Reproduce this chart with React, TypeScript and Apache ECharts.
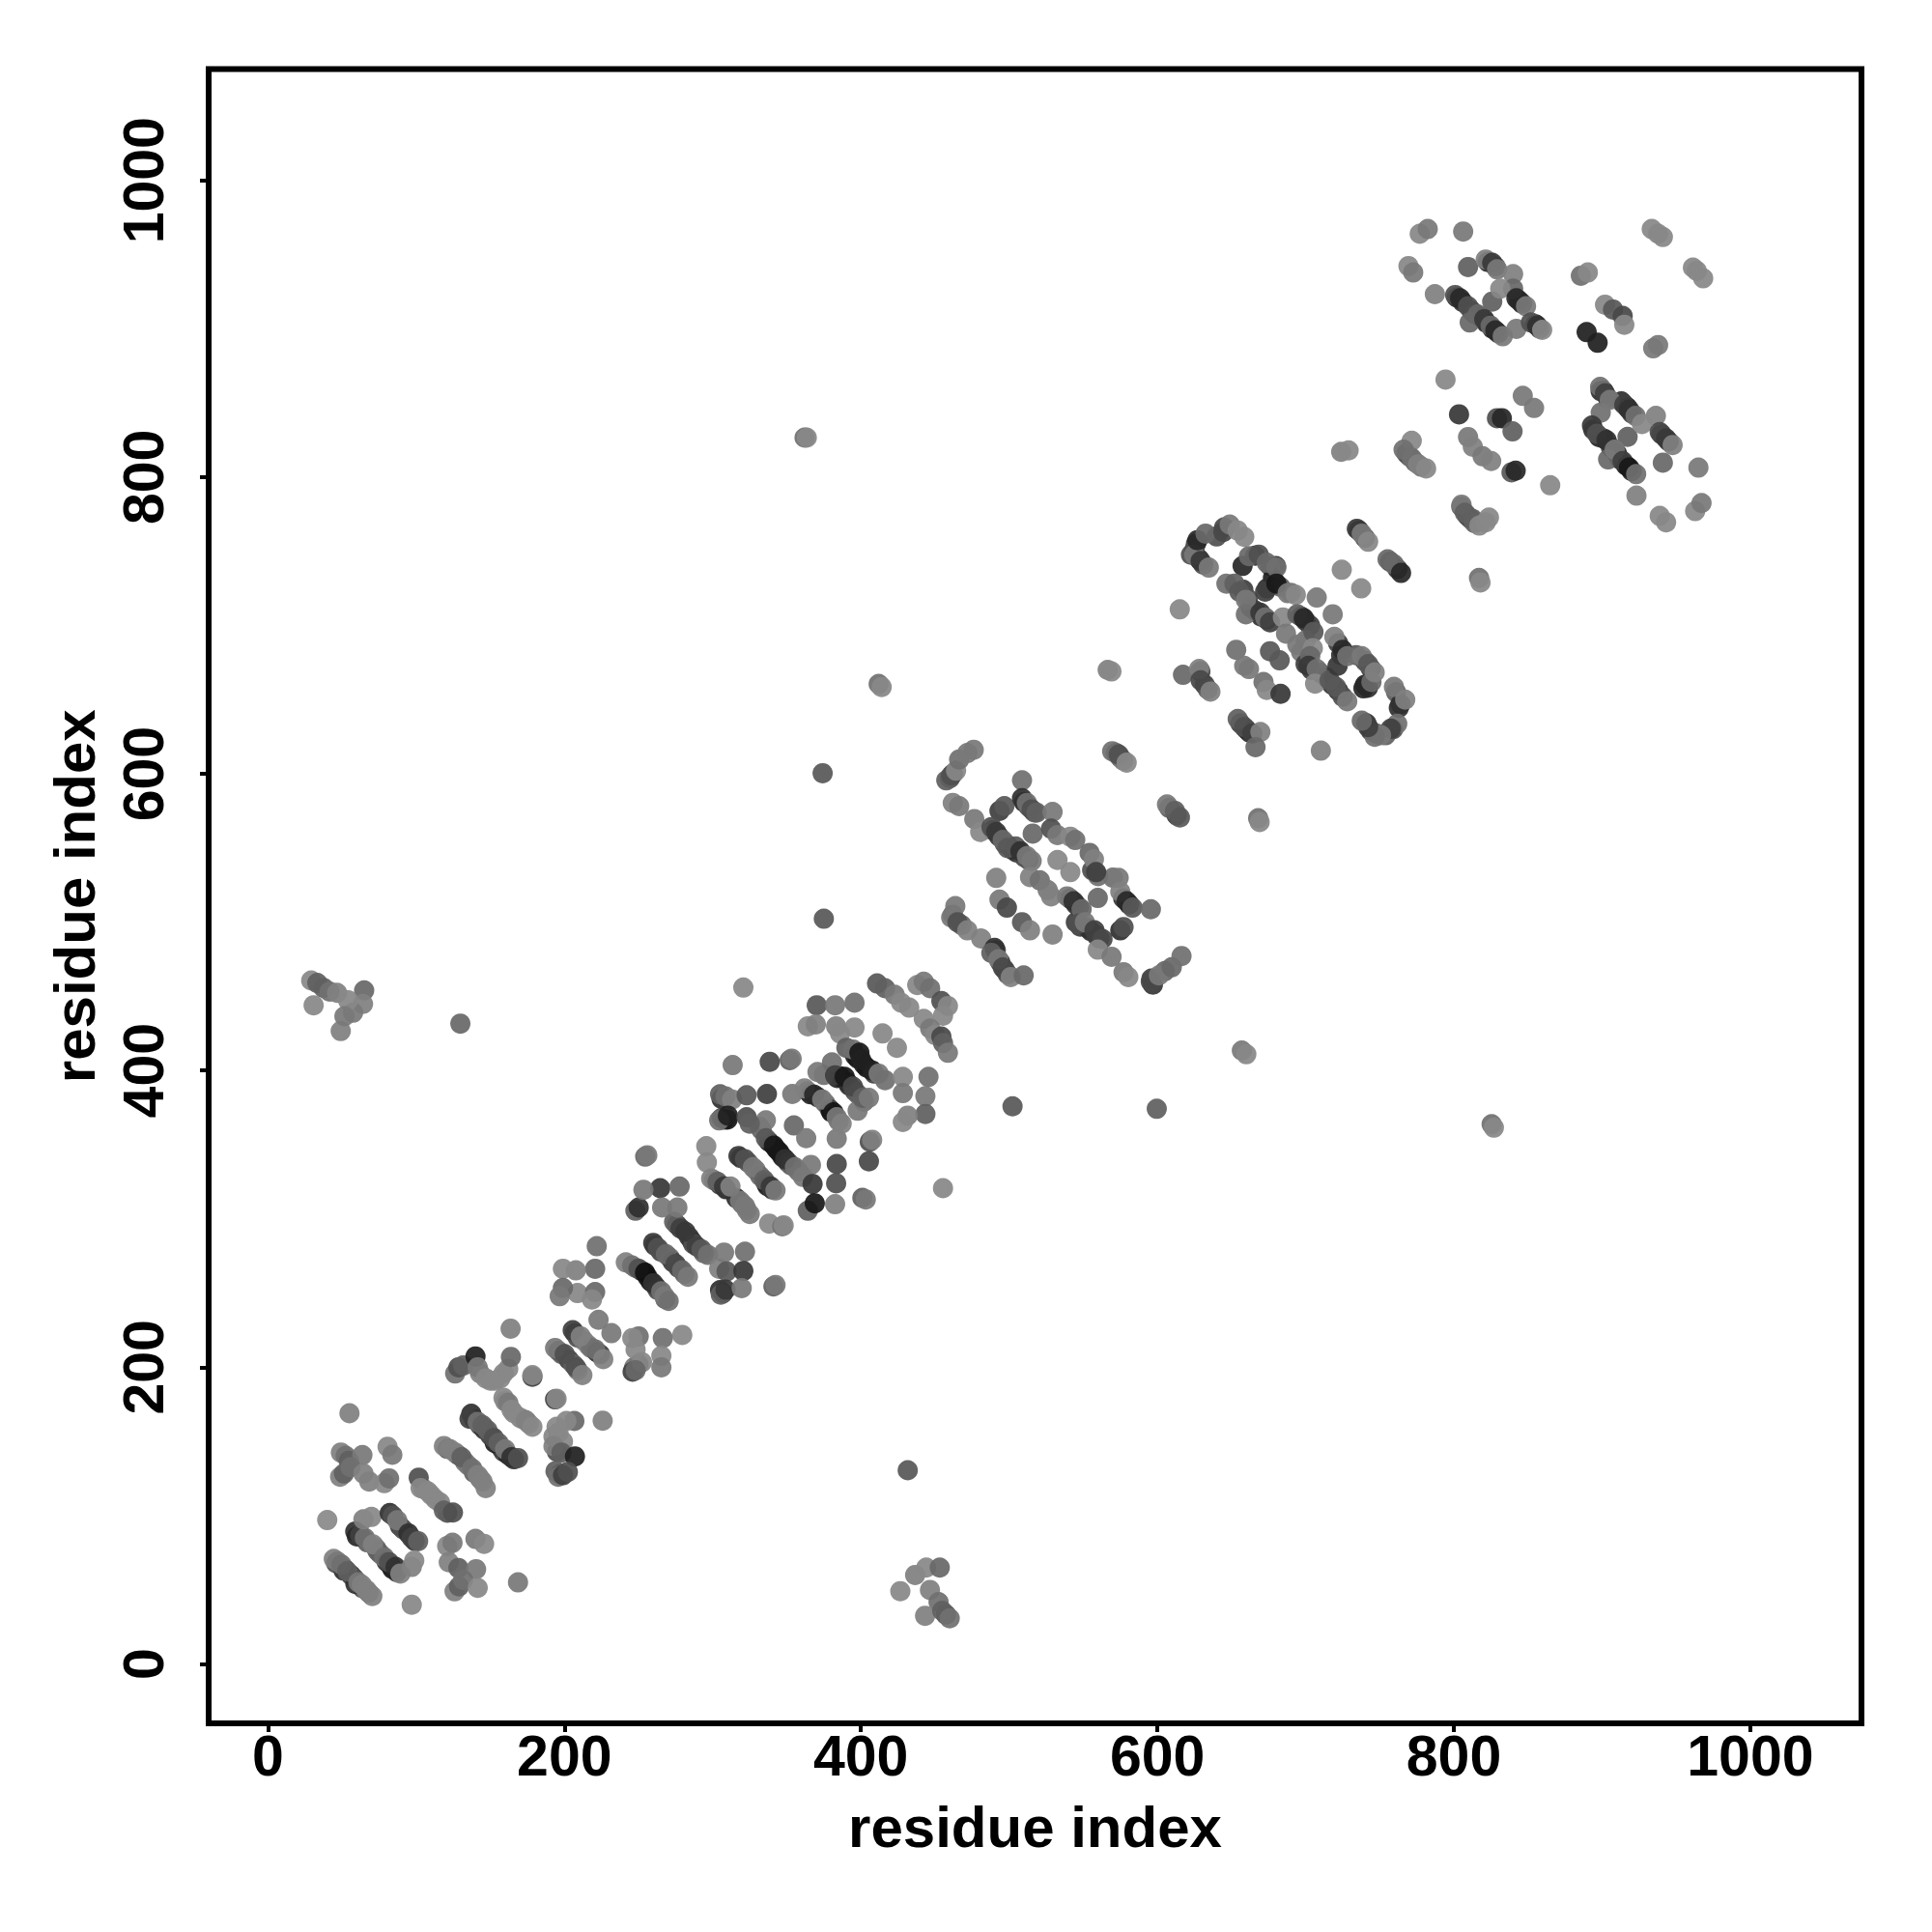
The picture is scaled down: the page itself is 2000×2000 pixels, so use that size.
import React, { useEffect, useRef } from "react";
import * as echarts from "echarts";

const tickValues = [0, 200, 400, 600, 800, 1000];
const axisTitle = "residue index";

// each contact: [residue i, residue j, grey level]
// contacts that lie underneath, seen as dark edges along the stripes
const underStripeContacts = [
  [46,68,0x50],[52,64,0x40],[56,60,0x38],[58,58,0x50],[64,51,0x50],[68,48,0x70],
  [67,82,0x60],[73,78,0x70],[76,74,0x70],[74,76,0x60],[80,69,0x30],[83,66,0x20],[87,62,0x30],
  [89,93,0x40],[91,91,0x50],[99,83,0x30],
  [121,145,0x60],[128,141,0x50],[133,136,0x78],[135,134,0x78],[139,129,0x60],[143,125,0x70],
  [105,118,0x88],[110,114,0x88],[113,111,0x88],[121,102,0x50],
  [139,165,0x30],[143,161,0x40],[146,158,0x30],[150,154,0x40],[157,146,0x30],[159,143,0x40],[162,141,0x28],[166,138,0x30],
  [160,177,0x80],[166,169,0x88],[170,166,0x88],[172,165,0x88],[176,162,0x88],
  [143,196,0x80],[150,191,0x88],[153,191,0x88],[159,196,0x88],
  [199,150,0x88],[196,156,0x88],[195,143,0x50],[197,128,0x30],[194,130,0x60],
  [207,223,0x30],[209,220,0x50],[213,218,0x78],[216,215,0x80],[218,213,0x70],[222,210,0x30],
  [196,211,0x50],[198,209,0x60],[203,205,0x40],[206,202,0x60],[209,198,0x78],
  [250,202,0x50],[247,200,0x78],[246,197,0x40],
  [248,267,0x70],[252,265,0x30],[256,261,0x20],[258,258,0x18],[262,254,0x30],[263,252,0x50],[268,246,0x60],
  [261,282,0x38],[265,278,0x48],[271,274,0x70],[273,271,0x40],[277,267,0x48],[281,263,0x68],
  [276,296,0x38],[284,288,0x38],[286,285,0x30],[287,283,0x50],[294,277,0x68],
  [305,252,0x30],[307,250,0x30],
  [301,326,0x70],[305,323,0x40],[309,320,0x28],[320,310,0x78],[323,306,0x78],[316,314,0x30],
  [319,341,0x40],[324,338,0x60],[329,333,0x78],[332,329,0x68],[336,324,0x40],[337,322,0x20],[340,320,0x30],
  [338,352,0x20],[343,347,0x10],[345,345,0x18],[347,342,0x18],[351,338,0x40],[353,336,0x60],[358,332,0x70],[333,360,0x60],
  [306,368,0x50],[308,367,0x30],[310,367,0x18],[306,381,0x30],[305,384,0x60],
  [364,386,0x60],[366,384,0x28],[371,382,0x30],[376,378,0x70],[379,374,0x40],[380,372,0x10],[385,366,0x78],
  [384,395,0x28],[386,396,0x10],[391,392,0x18],[392,390,0x30],[396,386,0x48],[398,384,0x60],[402,379,0x70],[375,397,0x70],
  [396,410,0x20],[398,408,0x18],[402,404,0x20],[404,402,0x18],[409,398,0x40],
  [489,562,0x38],[493,558,0x38],[497,553,0x50],[499,552,0x40],[502,549,0x30],[505,547,0x30],[510,544,0x50],[513,542,0x50],
  [510,581,0x28],[513,578,0x50],[517,574,0x58],
  [541,516,0x40],[545,512,0x38],[547,510,0x40],[545,500,0x40],[548,497,0x40],[553,496,0x38],[555,494,0x30],[559,491,0x40],[561,489,0x40],
  [577,516,0x38],[581,512,0x28],[556,535,0x50],[560,531,0x70],[570,530,0x70],
  [462,505,0x58],[468,498,0x68],[491,481,0x40],[494,473,0x30],[497,468,0x38],[499,465,0x50],[596,462,0x40],[597,458,0x38],[605,467,0x68],
  [460,597,0x50],[462,600,0x40],
  [626,755,0x40],[625,751,0x50],[628,745,0x30],[631,741,0x50],[645,766,0x48],[640,760,0x50],
  [658,724,0x40],[661,718,0x50],[663,712,0x40],[666,710,0x40],[670,706,0x30],[674,704,0x28],[680,740,0x30],[666,747,0x30],[676,740,0x60],[678,732,0x20],[674,725,0x30],[683,726,0x60],[690,722,0x70],
  [697,706,0x28],[700,703,0x30],[703,700,0x40],[700,690,0x70],[697,682,0x78],[700,674,0x40],[704,670,0x40],[710,668,0x60],[714,665,0x40],[718,660,0x38],[722,656,0x30],[725,652,0x50],
  [722,688,0x40],[724,680,0x30],[734,680,0x58],[740,676,0x50],[744,671,0x40],[740,660,0x20],[742,658,0x30],
  [761,655,0x60],[764,647,0x30],[759,630,0x50],[754,626,0x60],[741,634,0x30],[744,629,0x40],[748,627,0x60],
  [736,764,0x28],[740,759,0x50],[757,743,0x40],[762,738,0x30],[629,669,0x40],[632,660,0x40],[634,657,0x58],
  [656,634,0x40],[660,630,0x30],[662,628,0x28],
  [802,921,0x28],[806,918,0x30],[812,912,0x30],[814,910,0x50],[818,908,0x30],[822,904,0x28],[826,900,0x28],[830,897,0x40],
  [823,945,0x28],[828,942,0x50],[844,919,0x20],[846,917,0x28],[855,903,0x28],[858,900,0x50],
  [899,858,0x30],[901,858,0x28],[904,853,0x40],[913,851,0x30],[917,847,0x18],[920,843,0x40],[894,832,0x30],[898,827,0x28],[901,826,0x30],[906,820,0x40],[910,816,0x30],[912,812,0x30],[916,808,0x18],[920,804,0x28],[940,829,0x28],[945,824,0x30],
  [805,780,0x60],[809,774,0x40],[811,772,0x50],[814,769,0x60],[768,816,0x50],[770,814,0x50],[774,810,0x60],[778,807,0x70],
  [572,614,0x50],[575,611,0x60],[577,609,0x78],[608,577,0x60],[613,572,0x40],
];
const cornerContacts = [
  [29.2,460.7,0x88],[33.3,459,0x60],[37.5,455.7,0x60],[41.6,453.2,0x70],[46.6,452.4,0x80],[30.8,444,0x88],[64.9,454,0x68],[64.1,444.9,0x80],[57.4,439,0x78],[54,447.4,0x88],[49.1,426.6,0x80],[51.6,436.6,0x78],
  [426.6,49.1,0x88],[436.6,60,0x80],[444.1,65,0x88],[453.2,65,0x68],[446.6,49.9,0x80],[452.4,41.7,0x70],[443.3,32.5,0x80],[457.4,33.3,0x50],[454.9,35.8,0x60],[459.9,30.8,0x70],
  [362,826.6,0x70],[363.5,826.6,0x88],[374.2,600.4,0x58],[375,502.3,0x58],[412,660.5,0x70],[414,658.5,0x88],[825.5,363.8,0x70],[827,361.5,0x88],[502.3,375.9,0x58],[599.6,374.2,0x60],[657,413.5,0x78],[660,411,0x88],[431.6,130.6,0x58],[129.8,431.6,0x68],
  [668,570,0x70],[669,567.5,0x88],[566.5,670,0x80],[569,669,0x88],[724,817,0x80],[729,818,0x88],[817,732,0x70],[818,729,0x88],
];
const lowContacts = [
  [40,97,0x8a],[55,169,0x80],
  [51,63,0x30],[59,54,0x30],[44.4,70.8,0x80],[47,69,0x78],[49.6,67,0x70],[53.5,62.5,0x60],[61,55,0x78],[63.3,53.4,0x80],[66.5,49.9,0x80],[70.4,45.8,0x80],
  [58.9,89.3,0x30],[60,86,0x28],[62.2,87,0x40],[65.4,85,0x70],[70.9,80.6,0x80],[84,64,0x20],[78.5,71.9,0x70],[81.7,68.6,0x50],[86.1,65.4,0x30],[89.3,61,0x80],
  [64.4,97.5,0x80],[69.8,99.1,0x88],
  [82.2,101.7,0x30],[84.3,100,0x50],[87.2,96.9,0x78],[94.8,88,0x30],[97,85,0x40],[101.3,82.8,0x60],
  [97,65.4,0x80],[98.7,69.7,0x88],[97,40,0x88],
  [120.9,79.5,0x88],[124.5,81.7,0x78],[140,84.3,0x78],[145.8,81,0x88],
  [122,68.6,0x80],[128.5,64.7,0x60],[140.4,63.9,0x78],[125.9,49,0x80],[128.9,52.3,0x60],[131.7,56.7,0x70],[141.5,51.3,0x88],[168.7,55,0x78],
  [49.2,142.5,0x80],[52.4,140.3,0x70],[54.6,137,0x60],[63.7,140.8,0x78],[48.7,126.2,0x80],[51.3,128.4,0x60],[55.7,132.7,0x70],[64.4,128.4,0x80],[68.3,123,0x80],[78.5,121.9,0x88],[81.7,125.1,0x70],[80.7,146.4,0x88],[83.9,141,0x78],
  [101.7,125.6,0x50],[103,118.6,0x88],[107.8,116.4,0x88],[116.1,108.8,0x88],[118.7,103.4,0x60],[124.8,102.1,0x50],
  [118.7,146.9,0x80],[123,144.7,0x80],[126.3,142.5,0x80],[130.6,139.3,0x60],[137.8,131.7,0x70],[141.5,127.3,0x80],[144.8,123,0x80],[146.9,118.6,0x80],
  [137.2,168.6,0x30],[136,165.3,0x40],[153,149,0x20],[141.5,163.2,0x70],[144.8,161,0x60],[148,157.7,0x60],[152.4,152.3,0x50],[155.6,149,0x60],[160,144.7,0x78],[164.3,139.3,0x30],[168.7,138.8,0x50],
  [158.9,179.5,0x88],[162.1,176,0x78],[164.3,171.2,0x88],[174.1,164.3,0x80],[178.4,159.9,0x88],
  [193.7,178.4,0x40],[194.7,178.8,0x88],[206.7,163.8,0x68],[201.3,163.8,0x88],[194.7,159.9,0x88],[192.6,153.4,0x88],[192.6,146.9,0x80],[198,142.5,0x60],[207.1,139.9,0x20],[195.8,126.2,0x70],[199.1,127.3,0x40],[202.3,129.5,0x50],[225.8,164,0x80],
  [126.3,195.8,0x70],[128.5,200,0x50],[131.7,201.2,0x60],[140,207.3,0x20],[141.5,200,0x78],[147,192.5,0x88],[156.7,192.5,0x88],[162.1,199,0x88],[163.9,207,0x68],[178.4,193.6,0x40],[178.4,194.7,0x88],[163.7,226,0x80],
];
const lowerMidContacts = [
  [205.6,225,0x40],[211,220.8,0x80],[224,208.8,0x40],[220.8,212,0x70],[226.2,205.5,0x80],[193.7,213,0x78],[200.2,208.8,0x50],[207.8,200,0x50],[212.1,194.7,0x80],[223,232,0x78],[231.7,223,0x78],
  [250.1,220.8,0x70],[245.8,219.7,0x88],[266.4,219.7,0x70],[279.5,221.8,0x88],[248,212,0x88],[252.3,203.4,0x88],[248,198,0x68],[265.4,207.7,0x88],[265.4,200,0x78],
  [221.8,281.6,0x70],[220.7,266.4,0x68],[207.7,265.3,0x80],[199,266.4,0x88],[208.8,250,0x88],[199,253.4,0x68],[196.8,247.9,0x78],[220.7,250.7,0x68],[218.6,245.7,0x88],
  [241.4,270.7,0x80],[245.7,268.6,0x70],[250,266.4,0x50],[254.4,263.8,0x10],[259.9,256.6,0x30],[265.3,251.2,0x70],[267.5,247.9,0x78],[270.3,244.7,0x70],
  [259.9,283.8,0x38],[263.1,280.5,0x50],[268.5,276.2,0x68],[275,269.6,0x48],[279.4,265.3,0x68],[283.3,261,0x78],
  [274,298,0x60],[278.3,293.6,0x40],[281.6,291.4,0x38],[289.2,281.6,0x40],[292.5,279.4,0x58],[296.8,275.7,0x70],
  [304.4,266.4,0x80],[307.7,277.3,0x78],[321.8,277.9,0x70],[309.4,264.6,0x58],[320.7,264.9,0x38],[305.5,249,0x60],[308.7,252.3,0x38],[319.6,253.3,0x78],[341,254.5,0x60],[342.4,255.5,0x78],
  [247.9,305.5,0x60],[250.1,307.7,0x30],[264.6,320.7,0x38],[253.3,319.6,0x78],[277.7,321.8,0x68],[265.9,307.7,0x78],[276.2,307.7,0x78],[254.5,342,0x68],[255.9,342.9,0x78],[295.7,349,0x88],[296.1,338.1,0x88],
  [299,327.2,0x80],[303.3,325,0x60],[307.7,321.8,0x38],[312,321.8,0x80],[318.5,312,0x78],[321.8,308.8,0x78],[325,303.3,0x78],[338.1,296.8,0x88],[347,295,0x70],[347.9,295.7,0x88],
  [317.4,342.4,0x38],[321.8,340.3,0x50],[327.2,334.8,0x78],[334.8,326.1,0x60],[339.2,321.8,0x38],[342.4,319.2,0x78],
];
const upperMidContacts = [
  [331.6,362,0x70],[335.9,366.4,0x78],[335.9,354.4,0x58],[341.3,349.4,0x18],[348.9,340.3,0x30],[355.5,334.8,0x70],[366.3,336.4,0x78],[360.9,328.3,0x78],[367.4,323.5,0x38],
  [354.8,363,0x68],[363.1,354.4,0x78],[383.7,337,0x48],[405.4,338.8,0x48],[383.3,324,0x50],[364.2,305.5,0x60],[368.9,310.5,0x18],[382.6,309.9,0x80],[401,314.2,0x60],[403.3,313.1,0x78],[383.7,354,0x78],[406,352,0x50],[407.6,353.3,0x80],
  [313.5,403.7,0x78],[338.5,405.9,0x48],[352,407,0x60],[353.3,408,0x78],[308.7,382.6,0x70],[313.1,380.5,0x80],[322.9,383.3,0x58],[336.6,384.2,0x40],[353.7,384.2,0x78],[304.4,366.4,0x70],[310.3,369.6,0x20],[322.9,368.5,0x50],[325,364.2,0x60],
  [362,388,0x80],[368.5,383.7,0x28],[373.9,380.5,0x78],[381.5,371.8,0x18],[383.7,368.5,0x78],[387,364.2,0x80],
  [370.7,399,0x78],[380.5,405.5,0x70],[382.6,396.8,0x40],[389.1,395.7,0x18],[394.6,389.2,0x48],[397.8,372.9,0x78],[401.1,381.6,0x60],[405.4,381.6,0x78],
  [320.7,455.9,0x88],[370.2,444,0x58],[382.6,444,0x78],[395.7,445.7,0x70],[364.2,429.8,0x88],[369.6,431.1,0x80],[383.3,429.8,0x80],[385.9,425,0x88],[395.7,429,0x88],
  [410.9,458.7,0x58],[416.3,455.5,0x60],[422.8,451.1,0x78],[427.2,445.7,0x88],[432.6,442.4,0x88],[438,457.6,0x88],[442.4,459.8,0x78],[446.7,455.5,0x70],[454.3,446.8,0x50],[458.7,443.5,0x88],[455.4,437,0x88],[442.4,434.8,0x88],[446.7,428.3,0x78],[450,424,0x88],[454.3,422.9,0x48],[455.4,418.5,0x60],[458.7,412,0x78],
  [414.6,425,0x88],[424.3,415.3,0x88],
  [390.2,415.3,0x60],[394.6,414.2,0x70],[399,412,0x18],[400,407.7,0x20],[407.6,400,0x20],[412,397.9,0x78],[416.3,393.5,0x70],
  [428.3,395.7,0x88],[445.6,395.7,0x70],[428.3,384.8,0x78],[443.5,382.7,0x78],[443.5,370.7,0x60],[431.5,369.6,0x80],[428.3,365.3,0x88],[455.4,320.7,0x88],
];
const centreContacts = [
  [457.6,595.6,0x60],[460.9,598.9,0x50],[464.2,602.1,0x88],[466.3,609.7,0x70],[471.8,614,0x78],[476.1,616.2,0x78],
  [462,580.4,0x80],[466.3,578.2,0x78],[476.5,569.5,0x78],[480.5,560.8,0x88],
  [508.7,595.6,0x70],[493.5,575,0x40],[496.8,578.2,0x58],[508.7,583.6,0x30],[512,580.4,0x70],[515.2,576,0x50],[518.5,573.9,0x60],[529.3,574.3,0x78],[515.9,559.7,0x68],[528.3,563,0x50],[532.6,558.7,0x78],[541.3,557.6,0x88],[544.6,555.4,0x70],[554.3,546.7,0x68],[557.2,542.4,0x80],[532.6,541.9,0x88],[541.3,533.7,0x88],
  [488.1,564.1,0x50],[491.3,560.8,0x38],[495.7,555.4,0x68],[498.9,550,0x58],[504.4,551,0x58],[507.6,547.8,0x30],[512,544.5,0x78],[515.2,541.3,0x78],
  [491.3,529.8,0x80],[493.5,515.2,0x78],[498.5,509.8,0x48],[508.7,500,0x58],[514.1,494.5,0x80],[529.3,491.7,0x80],
  [514.1,530.4,0x80],[520.7,528.2,0x70],[526,521.7,0x78],[528.3,517.4,0x80],[539.1,517.4,0x78],
  [543.5,514.1,0x30],[548.9,508.7,0x68],[559.8,516.3,0x68],[546.7,498.9,0x50],[551.1,500,0x78],[557.6,494.5,0x40],[563,488.7,0x48],[559.8,481.5,0x88],[569.1,476.7,0x78],[577.2,466.3,0x78],[580.4,463,0x88],
  [558.7,533.7,0x40],[573.9,529.8,0x78],[575,520.6,0x80],[579.3,514.1,0x28],[583.2,509.8,0x58],[595.6,508.7,0x68],[575,494.5,0x30],[577.2,496.7,0x50],
  [463.7,510.8,0x78],[460.9,503.2,0x78],[465.2,500,0x50],[471.8,494.5,0x80],[481.1,489,0x80],[490.2,482.6,0x30],[488,479.3,0x60],[492.8,475,0x78],[495.7,469.5,0x48],[501.1,463,0x80],[509.8,464.1,0x68],
  [595.6,459.8,0x48],[601,464.1,0x78],[609.7,469.6,0x68],[616.3,477.2,0x70],
  [569.5,615.2,0x70],[573.9,613,0x50],[579.3,607.5,0x88],[606.5,579.3,0x78],[611.9,575,0x60],[615.2,570.6,0x58],
];
const upperContacts = [
  [622.7,747.7,0x50],[624.9,747.7,0x78],[627,757.5,0x28],[632.5,761.9,0x68],[644.5,763,0x48],[648.8,768,0x78],[654.2,764,0x88],[658.6,759.7,0x88],[629.2,743.4,0x38],[634.7,739,0x78],
  [646.6,728.2,0x70],[657.5,740.1,0x28],[661.8,746.7,0x68],[668.4,747.7,0x50],[673.8,742.3,0x68],[680.3,739,0x70],[672.7,722.8,0x40],[680.3,728.2,0x18],[687.9,721.7,0x78],[693.4,720.6,0x88],[707.5,718.8,0x78],[718.3,707.5,0x78],[615.1,710.8,0x88],
  [652,728.2,0x60],[655.3,722.8,0x58],[659.7,717.3,0x78],[659.7,707.5,0x70],[669.5,708.6,0x38],[672.7,705.4,0x70],[676,702.1,0x40],[684.7,705.4,0x88],[694.4,707.5,0x60],[698.8,704.9,0x28],[705.3,695.6,0x58],[686.8,694.5,0x78],[694.4,686.9,0x78],[704.9,684.7,0x88],[703.1,679.3,0x68],[702,672.8,0x38],[707.5,670.6,0x70],[706.4,660.8,0x88],[716.2,663,0x58],[720.5,658.6,0x58],[728.1,648.9,0x78],
  [719.4,692.3,0x80],[721.6,672.8,0x38],[724.9,683.6,0x28],[728.1,679.3,0x70],[737.9,679.3,0x78],[742.2,673.9,0x58],[739,657.6,0x28],[744.4,661.9,0x68],[746.6,668.4,0x80],[759.6,658.6,0x78],[762.9,644.5,0x30],[767.2,650,0x80],[761.8,633.7,0x70],[757.5,630.4,0x40],[750.9,626,0x78],[746.6,625,0x70],[742.2,631.5,0x40],[737.9,635.8,0x68],
  [734.6,765.1,0x38],[737.9,761.9,0x78],[742.2,756.4,0x88],[755.3,744.5,0x68],[759.6,741.2,0x68],[764.4,735.4,0x28],[724.4,737.5,0x88],[737.5,725,0x88],
  [617.3,666.7,0x68],[628.2,670.6,0x80],[629.2,663,0x48],[635.8,655.4,0x80],
  [653.2,683.6,0x70],[658.6,672.8,0x78],[661.8,670.6,0x78],[676,682.6,0x58],[682.5,676.5,0x58],[671.6,661.9,0x70],[673.8,656.5,0x88],[683.1,653.9,0x38],
  [654.2,636.9,0x60],[658.6,631.5,0x50],[664,627.2,0x40],[669.5,628.2,0x80],[666.2,618,0x68],[710.3,615.6,0x80],
];
const topContacts = [
  [777,964,0x88],[782.4,967.2,0x78],[806.3,965.5,0x78],[769.4,942.2,0x88],[772.6,937.9,0x78],[787.2,923.3,0x80],
  [809.6,941.6,0x60],[821.5,946.6,0x80],[825.9,944.4,0x38],[829.2,940,0x78],[840,936.8,0x80],[825.9,918.3,0x60],[840,927,0x68],[831.3,927,0x88],[842.2,920.5,0x28],[848.7,915.1,0x78],
  [800.9,922.7,0x50],[804.2,920.5,0x28],[809.6,915.1,0x50],[810.7,904.2,0x68],[816.1,909.6,0x68],[820.5,906.4,0x38],[824.8,902,0x68],[828,898.8,0x28],[833,894.9,0x78],
  [842.2,899.9,0x78],[852,904.2,0x50],[856.3,902,0x30],[859.6,899.2,0x88],
  [794.4,865.7,0x88],[885.7,935.7,0x70],[890.4,937.9,0x88],
  [902,916.2,0x88],[907.4,912.9,0x58],[913.9,908.6,0x48],[915,902.7,0x88],[889.6,897.7,0x20],[897,890.5,0x20],[934.5,886.8,0x78],[937.8,889,0x78],
  [933.5,967.2,0x88],[937.8,964,0x88],[941,961.8,0x88],[961.3,941.2,0x88],[963.9,939,0x88],[968.2,934,0x88],
  [803.5,842.3,0x38],[846.5,854.7,0x78],[854.1,846.6,0x78],[829.1,839.7,0x50],[832.4,839.7,0x28],[839.6,830.8,0x60],[809.6,827,0x78],[812.8,820.5,0x80],[819.4,814,0x78],[825.2,810.8,0x80],[838.9,803.2,0x58],[841.7,804.3,0x28],[865,794.5,0x88],
  [771.6,824.5,0x88],[766.1,818.4,0x70],[771.6,812.9,0x70],[775.9,808.6,0x80],[781.3,805.8,0x88],
  [805.2,781.4,0x78],[807.4,776,0x60],[812.8,771.7,0x60],[817.2,767.3,0x88],[821.5,769.5,0x88],[823.7,772.7,0x88],
  [899.1,843.4,0x70],[898.7,860.8,0x70],[902,856.4,0x40],[905.2,852,0x78],[915,848.8,0x40],[918.2,845.5,0x30],[922.6,841.2,0x70],[936.3,841.2,0x80],[917.2,827.1,0x60],[926.9,835.8,0x88],
  [893.2,834.7,0x38],[896.5,829.2,0x50],[903,824.9,0x30],[904.1,811.9,0x68],[908.5,818.4,0x78],[913.9,810.8,0x40],[918.2,806.4,0x18],[923,802,0x70],
  [938.9,830.3,0x48],[943.2,826,0x38],[947.6,821.6,0x80],[941,809.7,0x68],[965,806.4,0x78],[923.2,787.5,0x80],[938.9,773.8,0x88],[943.2,769.5,0x88],[962.8,777.1,0x88],[967.1,782.5,0x78],
];

const contacts = [
  ...underStripeContacts, ...cornerContacts, ...lowContacts, ...lowerMidContacts, ...upperMidContacts,
  ...centreContacts, ...upperContacts, ...topContacts,
];

const font = "'Liberation Sans', Arial, sans-serif";

export default function App() {
  const ref = useRef<HTMLDivElement>(null);
  useEffect(() => {
    const chart = echarts.init(ref.current!, null, { renderer: "svg" });
    const axis = {
      type: "value",
      min: -40,
      max: 1075,
      name: axisTitle,
      nameLocation: "middle",
      nameTextStyle: { fontFamily: font, fontWeight: "bold", fontSize: 60, color: "#000" },
      splitLine: { show: false },
      axisLine: { show: false, onZero: false },
      axisTick: {
        show: true, length: 9, customValues: tickValues,
        lineStyle: { color: "#000", width: 4 },
      },
    };
    const labelStyle = {
      customValues: tickValues,
      formatter: (v: number) => String(v),
      fontFamily: font, fontWeight: "bold", fontSize: 59, color: "#000",
    };
    chart.setOption({
      animation: false,
      backgroundColor: "#fff",
      grid: {
        show: true, left: 216, right: 73, top: 71.5, bottom: 216,
        borderColor: "#000", borderWidth: 6, backgroundColor: "transparent",
      },
      xAxis: {
        ...axis,
        nameGap: 77,
        axisLabel: { ...labelStyle, margin: 4 },
      },
      yAxis: {
        ...axis,
        nameGap: 109,
        axisLabel: { ...labelStyle, margin: 38, rotate: 90 },
      },
      series: [
        {
          type: "scatter",
          data: contacts,
          symbol: "circle",
          symbolSize: 21,
          clip: false,
          itemStyle: {
            opacity: 0.93,
            color: (p: any) => {
              const g = p.value[2];
              return `rgb(${g},${g},${g})`;
            },
          },
        },
      ],
    });
    return () => chart.dispose();
  }, []);
  return (
    <div
      ref={ref}
      style={{ position: "absolute", left: 0, top: 0, width: 2000, height: 2000, background: "#fff" }}
    />
  );
}
